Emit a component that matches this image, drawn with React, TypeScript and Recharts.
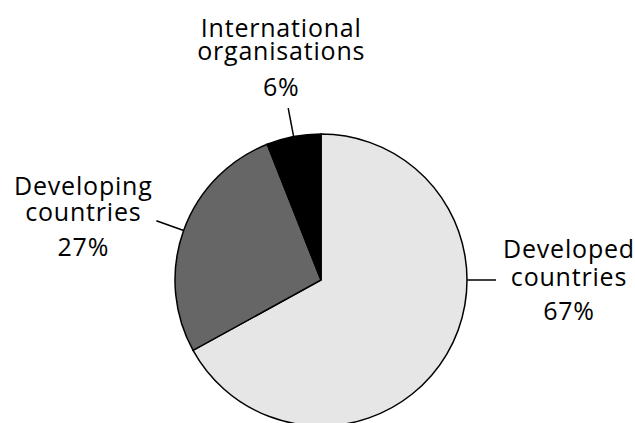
import React from "react"
import { PieChart, Pie, Cell } from "recharts"

const NAMES = ["Developed countries", "Developing countries", "International organisations"]
const VALUES = [67, 27, 6]
const COLORS = ["#e6e6e6", "#666666", "#000000"]

const data = NAMES.map((name, i) => ({ name, value: VALUES[i] }))

const RAD = Math.PI / 180

// leader angle override (deg) and text offset from leader end
const LABEL_LAYOUT: Record<string, { angle?: number; dx: number; dy: number; lines: number[] }> = {
  "Developed countries": { angle: 0, dx: 73, dy: -22, lines: [0, 28, 62] },
  "Developing countries": { dx: -73, dy: -26, lines: [0, 26, 61] },
  "International organisations": { dx: -7, dy: -71, lines: [0, 23, 59] },
}

// eslint-disable-next-line @typescript-eslint/no-explicit-any
const renderLabel = (props: any) => {
  const { cx, cy, midAngle, outerRadius, name, value } = props
  const layout = LABEL_LAYOUT[name]
  const angle = layout.angle ?? midAngle
  const cos = Math.cos(-angle * RAD)
  const sin = Math.sin(-angle * RAD)
  const x1 = cx + outerRadius * cos
  const y1 = cy + outerRadius * sin
  const x2 = cx + (outerRadius + 29) * cos
  const y2 = cy + (outerRadius + 29) * sin
  const tx = x2 + layout.dx
  const ty = y2 + layout.dy
  const words = name.split(" ")
  const rows = [words[0], words[1], `${value}%`]
  return (
    <g>
      <line x1={x1} y1={y1} x2={x2} y2={y2} stroke="#000" strokeWidth={1.5} />
      <text
        x={tx}
        y={ty}
        textAnchor="middle"
        fill="#000"
        fontSize={25}
        letterSpacing={0.8}
        fontFamily="'Open Sans', sans-serif"
      >
        {rows.map((r, i) => (
          <tspan key={i} x={tx} y={ty + layout.lines[i]}>
            {r}
          </tspan>
        ))}
      </text>
    </g>
  )
}

export default function App() {
  return (
    <div style={{ position: "absolute", left: 0, top: 0, width: 635, height: 423, background: "#fff" }}>
      <PieChart width={635} height={423} margin={{ top: 0, right: 0, bottom: 0, left: 0 }}>
        <Pie
          data={data}
          dataKey="value"
          nameKey="name"
          cx={321}
          cy={280}
          outerRadius={146}
          startAngle={90}
          endAngle={-270}
          stroke="#000"
          strokeWidth={1.5}
          label={renderLabel}
          labelLine={false}
          isAnimationActive={false}
        >
          {data.map((entry, index) => (
            <Cell key={`cell-${index}`} fill={COLORS[index]} />
          ))}
        </Pie>
      </PieChart>
    </div>
  )
}
